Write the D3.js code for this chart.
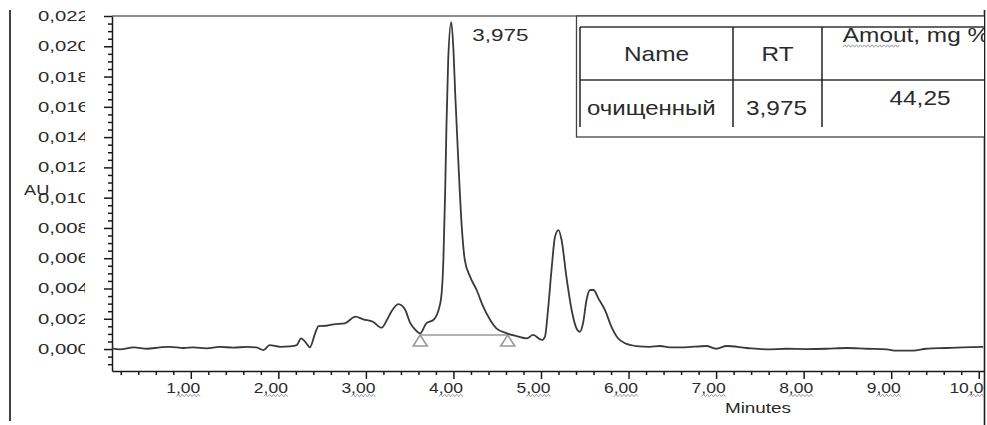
<!DOCTYPE html>
<html>
<head>
<meta charset="utf-8">
<script src="https://cdn.jsdelivr.net/npm/d3@7"></script>
<style>
  body { margin: 0; background: #fff; }
  svg { display: block; }
  text { font-family: "Liberation Sans", Arial, sans-serif; fill: #2a2a2a; }
</style>
</head>
<body>
<div id="chart"></div>
<script>
// retention time, minutes
let times = [
  0.10, 0.19, 0.35, 0.50, 0.65, 0.76, 0.92, 1.03, 1.18, 1.33, 1.49, 1.64, 1.75, 1.83, 1.90,
  2.02, 2.13, 2.21, 2.26, 2.32, 2.36, 2.42, 2.46, 2.55, 2.63, 2.76, 2.88, 2.97, 3.08, 3.18,
  3.24, 3.29, 3.37, 3.45, 3.50, 3.56, 3.62, 3.69, 3.77, 3.83, 3.865, 3.885, 3.905, 3.92, 3.94,
  3.975, 4.00, 4.02, 4.055, 4.095, 4.13, 4.19, 4.265, 4.34, 4.42, 4.49, 4.61, 4.72, 4.84, 4.91,
  5.01, 5.045, 5.08, 5.12, 5.16, 5.20, 5.235, 5.29, 5.35, 5.405, 5.445, 5.48, 5.52, 5.56, 5.60,
  5.655, 5.73, 5.805, 5.88, 5.96, 6.09, 6.24, 6.36, 6.47, 6.62, 6.89, 7.00, 7.12, 7.35, 7.58,
  7.80, 8.03, 8.26, 8.49, 8.72, 8.95, 9.06, 9.25, 9.40, 9.63, 9.82, 10.05
];

// detector signal, AU
let signal = [
  0.00005, -0.00002, 0.00011, 0.00002, 0.00011, 0.00015, 0.00007, 0.00011, 0.00005, 0.00015, 0.00009, 0.00015, 0.00011, -0.00007, 0.00026,
  0.00015, 0.00018, 0.00026, 0.00071, 0.00038, 0.00011, 0.00104, 0.00152, 0.00154, 0.00163, 0.00170, 0.00214, 0.00196, 0.00180, 0.00141,
  0.00192, 0.00247, 0.00297, 0.00258, 0.00180, 0.00130, 0.00104, 0.00170, 0.00192, 0.00258, 0.00368, 0.00588, 0.01029, 0.01469, 0.01910,
  0.02160, 0.01976, 0.01690, 0.01249, 0.00808, 0.00588, 0.00478, 0.00390, 0.00280, 0.00192, 0.00137, 0.00104, 0.00086, 0.00071, 0.00093,
  0.00060, 0.00081, 0.00258, 0.00522, 0.00742, 0.00786, 0.00720, 0.00478, 0.00258, 0.00137, 0.00114, 0.00170, 0.00324, 0.00390, 0.00390,
  0.00335, 0.00258, 0.00147, 0.00071, 0.00038, 0.00020, 0.00015, 0.00020, 0.00011, 0.00011, 0.00020, 0.00002, 0.00020, 0.00007, -0.00002,
  0.00002, 0.00000, 0.00002, 0.00007, 0.00002, -0.00002, -0.00011, -0.00011, 0.00002, 0.00007, 0.00011, 0.00015
];

let yTicks = [0, 0.002, 0.004, 0.006, 0.008, 0.010, 0.012, 0.014, 0.016, 0.018, 0.020, 0.022];
let xTicks = [1, 2, 3, 4, 5, 6, 7, 8, 9, 10];

let peakTime  = 3.975,
    peakValue = 0.0216,
    peakLabel = "3,975";

let baselineTimes  = [3.62, 4.62],
    baselineValues = [0.00093, 0.00093];

let tableHeaders = ["Name", "RT", "Amout, mg %"];
let tableRow     = ["очищенный", "3,975", "44,25"];

let exteriorWidth  = 987,
    exteriorHeight = 425;

let svg =
  d3.select("#chart")
    .append("svg")
      .attr("width", exteriorWidth)
      .attr("height", exteriorHeight);

let x = d3.scaleLinear()
    .domain([0.1, 10.06])
    .range([112, 984]);

let y = d3.scaleLinear()
    .domain([-0.00145, 0.022])
    .range([371, 16]);

let comma = function(fmt) {
  return function(d) { return d3.format(fmt)(d).replace(".", ","); };
};

// stretched text: the source image is wider than it is tall
function label(parent, px, py, str, size, sx, anchor) {
  let g = parent.append("g")
      .attr("transform", translate(px, py) + " scale(" + sx + ",1)");
  let t = g.append("text")
      .attr("font-size", size)
      .attr("text-anchor", anchor || "start")
      .text(str);
  return {g: g, t: t};
}

// spell-check style wavy underline
function squiggle(g, x0, x1, yy) {
  let pts = [], i = 0;
  for (let xx = x0; xx <= x1; xx += 1.6, i++) pts.push([xx, yy + (i % 2 ? -1.2 : 1.2)]);
  g.append("path")
    .attr("d", d3.line()(pts))
    .attr("fill", "none")
    .attr("stroke", "#8d8d9e")
    .attr("stroke-width", 0.8);
}

svg.append("defs").append("clipPath").attr("id", "yclip")
  .append("rect").attr("x", 0).attr("y", 0).attr("width", 85).attr("height", exteriorHeight);
svg.select("defs").append("clipPath").attr("id", "rclip")
  .append("rect").attr("x", 0).attr("y", 0).attr("width", 984).attr("height", exteriorHeight);

// page frame lines
svg.append("line").attr("x1", 10).attr("x2", 10).attr("y1", 10).attr("y2", 421)
  .attr("stroke", "#111").attr("stroke-width", 1.6);
svg.append("line").attr("x1", 984.5).attr("x2", 984.5).attr("y1", 10).attr("y2", 425)
  .attr("stroke", "#222").attr("stroke-width", 1.6);

// top border of the plot
svg.append("line").attr("x1", 112).attr("x2", 984).attr("y1", 16).attr("y2", 16)
  .attr("stroke", "#6a6a6a").attr("stroke-width", 1.6);

// y axis
let yMinor = d3.range(-0.001, 0.0222, 0.0005).filter(function(d) {
  return Math.abs(Math.round(d / 0.002) * 0.002 - d) > 1e-7;
});

svg.append("g")
    .attr("transform", translate(112, 0))
    .call(d3.axisLeft(y).tickValues(yMinor).tickSize(4).tickFormat(""))
    .call(function(g) { g.select(".domain").remove(); });

svg.append("g")
    .attr("transform", translate(112, 0))
    .call(d3.axisLeft(y).tickValues(yTicks).tickSize(8).tickSizeOuter(0).tickFormat(""));

// x axis
let xMinor = d3.range(0.2, 10.05, 0.2).filter(function(d) {
  return Math.abs(Math.round(d) - d) > 1e-6;
});

svg.append("g")
    .attr("transform", translate(0, 371))
    .call(d3.axisBottom(x).tickValues(xMinor).tickSize(4).tickFormat(""))
    .call(function(g) { g.select(".domain").remove(); });

svg.append("g")
    .attr("transform", translate(0, 371))
    .call(d3.axisBottom(x).tickValues(xTicks).tickSize(8).tickSizeOuter(0).tickFormat(""));

svg.selectAll(".tick line, .domain")
    .attr("stroke", "#1a1a1a")
    .attr("stroke-width", 1.5);

// y tick labels (clipped at the right as in the source)
let yLab = svg.append("g").attr("clip-path", "url(#yclip)");
yTicks.forEach(function(d) {
  label(yLab, 38, y(d) + 5, comma(".3f")(d), 14, 1.45);
});

label(svg, 24, 195, "AU", 14, 1.3);

// x tick labels
let xLab = svg.append("g").attr("clip-path", "url(#rclip)");
xTicks.forEach(function(d) {
  let l = label(xLab, x(d) - 7.5, 392.5, comma(".2f")(d), 14, 1.25, "middle");
  let w = l.t.node().getComputedTextLength();
  squiggle(l.g, -w / 2 + (d >= 10 ? w * 0.42 : w * 0.29), w / 2, 3);
});

label(svg, 758, 413, "Minutes", 15.5, 1.22, "middle");

// integration baseline with drop markers
svg.append("line")
    .attr("x1", x(baselineTimes[0])).attr("x2", x(baselineTimes[1]))
    .attr("y1", y(baselineValues[0])).attr("y2", y(baselineValues[1]))
    .attr("stroke", "#9a9a9a")
    .attr("stroke-width", 1.6);

baselineTimes.forEach(function(t, i) {
  let cx = x(t), cy = y(baselineValues[i]);
  svg.append("path")
    .attr("d", "M" + cx + "," + cy + "L" + (cx + 7) + "," + (cy + 11) + "L" + (cx - 7) + "," + (cy + 11) + "Z")
    .attr("fill", "none")
    .attr("stroke", "#9a9a9a")
    .attr("stroke-width", 1.6);
});

// chromatogram trace
let line = d3.line()
    .curve(d3.curveMonotoneX)
    .x(function(d, i) { return x(times[i]); })
    .y(function(d) { return y(d); });

svg.append("path")
    .attr("d", line(signal))
    .attr("fill", "none")
    .attr("stroke", "#3a3a3a")
    .attr("stroke-width", 1.8)
    .attr("stroke-linejoin", "round");

label(svg, x(peakTime) + 21, y(peakValue) + 19, peakLabel, 17, 1.32);

// results table
let tbl = svg.append("g").attr("clip-path", "url(#rclip)");
let colX = [580, 733, 822, 1014];
let rowY = [27, 80, 127];

tbl.append("rect")
    .attr("x", 576.5).attr("y", 16).attr("width", 420).attr("height", 121)
    .attr("fill", "#fff").attr("stroke", "#444").attr("stroke-width", 1.3);

rowY.slice(0, 2).forEach(function(ry) {
  tbl.append("line").attr("x1", colX[0]).attr("x2", 1000).attr("y1", ry).attr("y2", ry)
    .attr("stroke", "#333").attr("stroke-width", 1.3);
});
colX.slice(0, 3).forEach(function(cx) {
  tbl.append("line").attr("x1", cx).attr("x2", cx).attr("y1", rowY[0]).attr("y2", rowY[2])
    .attr("stroke", "#222").attr("stroke-width", 1.5);
});

label(tbl, (colX[0] + colX[1]) / 2, 61, tableHeaders[0], 20, 1.22, "middle");
label(tbl, (colX[1] + colX[2]) / 2, 61, tableHeaders[1], 20, 1.22, "middle");
let amt = label(tbl, (colX[2] + colX[3]) / 2 - 2, 42, tableHeaders[2], 20, 1.22, "middle");
let aw = amt.t.node().getComputedTextLength();
squiggle(amt.g, -aw / 2, -aw / 2 + 48, 4);

label(tbl, colX[0] + 7, 115, tableRow[0], 20, 1.2);
label(tbl, (colX[1] + colX[2]) / 2 - 1, 115, tableRow[1], 20, 1.22, "middle");
label(tbl, (colX[2] + colX[3]) / 2 + 2, 105, tableRow[2], 20, 1.22, "middle");

function translate(x, y=0) {
  return "translate({x}, {y})"
          .replace("{x}", x)
          .replace("{y}", y);
}
</script>
</body>
</html>
